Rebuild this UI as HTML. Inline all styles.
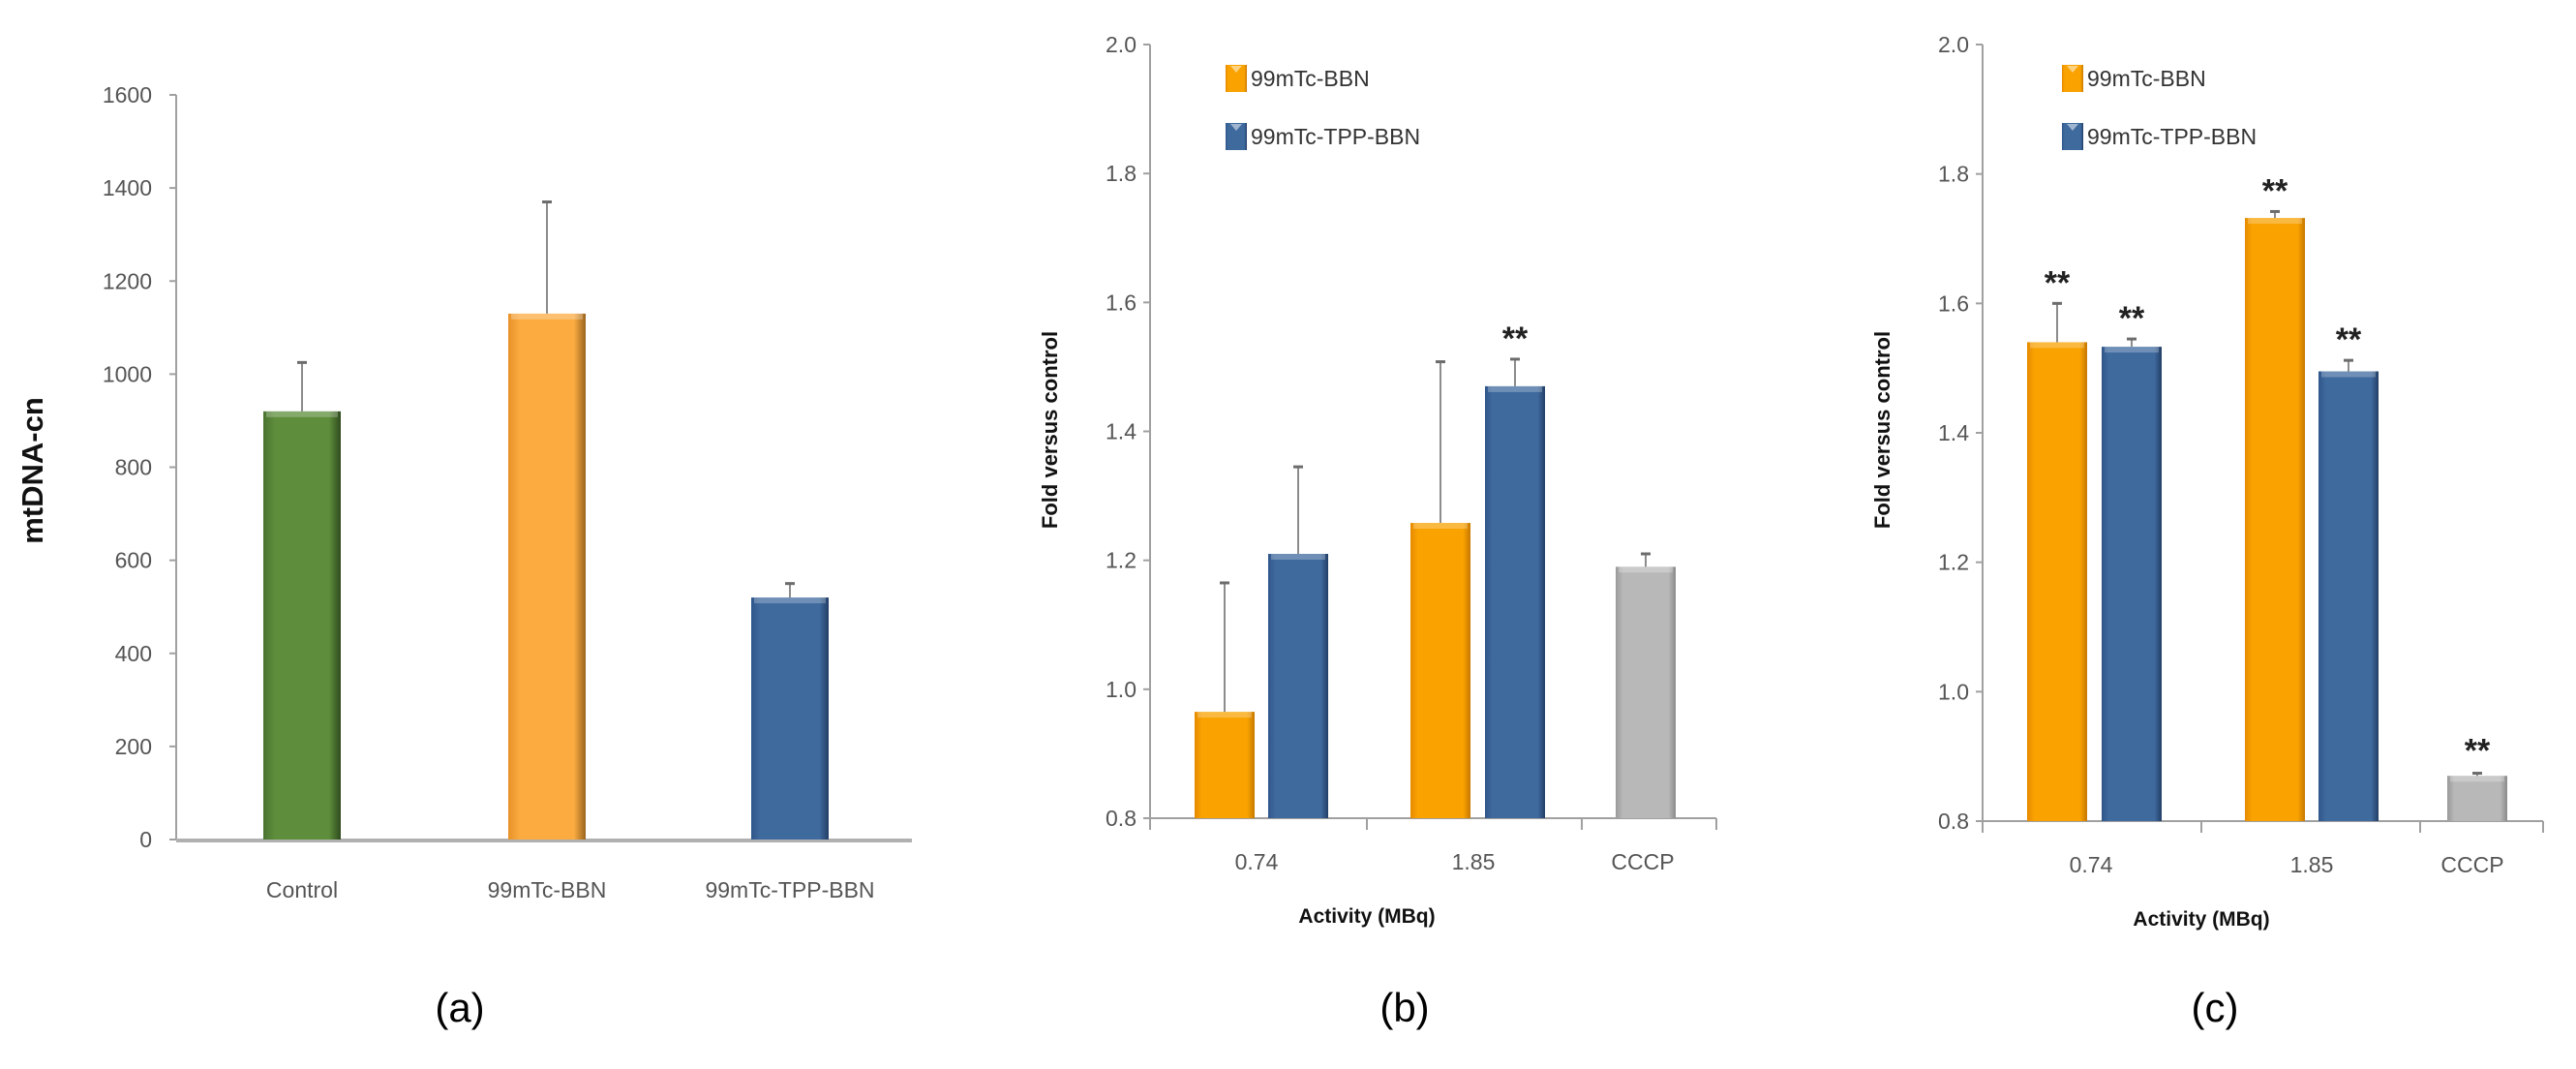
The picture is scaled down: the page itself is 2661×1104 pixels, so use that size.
<!DOCTYPE html>
<html><head><meta charset="utf-8">
<style>
html,body{margin:0;padding:0;background:#fff;}
svg{display:block;}
text{font-family:"Liberation Sans",sans-serif;}
</style></head>
<body>
<svg id="chart" width="2661" height="1104" viewBox="0 0 2661 1104" xmlns="http://www.w3.org/2000/svg">
<defs>
<linearGradient id="gGreen" x1="0" x2="1" y1="0" y2="0"><stop offset="0" stop-color="#4a7430"/><stop offset="0.15" stop-color="#5e8d3b"/><stop offset="0.85" stop-color="#5e8d3b"/><stop offset="1" stop-color="#2f4a1e"/></linearGradient>
<linearGradient id="gOrangeA" x1="0" x2="1" y1="0" y2="0"><stop offset="0" stop-color="#e8922a"/><stop offset="0.15" stop-color="#fbab40"/><stop offset="0.85" stop-color="#fbab40"/><stop offset="1" stop-color="#9a6420"/></linearGradient>
<linearGradient id="gOrange" x1="0" x2="1" y1="0" y2="0"><stop offset="0" stop-color="#e68a00"/><stop offset="0.12" stop-color="#f9a200"/><stop offset="0.88" stop-color="#f9a200"/><stop offset="1" stop-color="#c67800"/></linearGradient>
<linearGradient id="gBlue" x1="0" x2="1" y1="0" y2="0"><stop offset="0" stop-color="#30568a"/><stop offset="0.12" stop-color="#3f6a9e"/><stop offset="0.88" stop-color="#3f6a9e"/><stop offset="1" stop-color="#223e66"/></linearGradient>
<linearGradient id="gGrey" x1="0" x2="1" y1="0" y2="0"><stop offset="0" stop-color="#9a9a9a"/><stop offset="0.12" stop-color="#b8b8b8"/><stop offset="0.88" stop-color="#b8b8b8"/><stop offset="1" stop-color="#8a8a8a"/></linearGradient>
</defs>
</svg>
<script>
// ---- Panel (a) data ----
const aCategories = ["Control", "99mTc-BBN", "99mTc-TPP-BBN"];
const aValues = [920, 1130, 520];
const aErrors = [105, 240, 30];
const aTicks = [0, 200, 400, 600, 800, 1000, 1200, 1400, 1600];
// ---- Panel (b) data ----
const bCategories = ["0.74", "1.85", "CCCP"];
const bBBN = [0.965, 1.258];
const bBBNErr = [0.20, 0.25];
const bTPP = [1.21, 1.47];
const bTPPErr = [0.135, 0.042];
const bCCCP = [1.19];
const bCCCPErr = [0.02];
const bStarsTPP = [false, true];
const bStarsBBN = [false, false];
const bStarsCCCP = [false];
// ---- Panel (c) data ----
const cCategories = ["0.74", "1.85", "CCCP"];
const cBBN = [1.54, 1.732];
const cBBNErr = [0.06, 0.01];
const cTPP = [1.533, 1.495];
const cTPPErr = [0.012, 0.017];
const cCCCP = [0.87];
const cCCCPErr = [0.004];
const cStarsBBN = [true, true];
const cStarsTPP = [true, true];
const cStarsCCCP = [true];
const foldTicks = [0.8, 1.0, 1.2, 1.4, 1.6, 1.8, 2.0];
const legendLabels = ["99mTc-BBN", "99mTc-TPP-BBN"];

const svg = document.getElementById('chart');
const NS = 'http://www.w3.org/2000/svg';
function mk(tag, attrs, parent){
  const e = document.createElementNS(NS, tag);
  for (const k in attrs) e.setAttribute(k, attrs[k]);
  (parent||svg).appendChild(e);
  return e;
}
function scaleY(min,max,y0,y1){ return v => y0 + (v-min)/(max-min)*(y1-y0); }

function bar(g, x, w, yv, ybase, fill, name){
  const r = mk('rect',{x:x,y:yv,width:w,height:ybase-yv,fill:fill},g);
  
  
  const cap = mk('rect',{x:x+3,y:yv,width:w-6,height:6,fill:'#ffffff','fill-opacity':0.25},g);
  
  
}
function errBar(g, cx, yTop, yVal, name){
  const l = mk('line',{x1:cx,x2:cx,y1:yTop,y2:yVal,stroke:'#8c8c8c','stroke-width':2},g);
  
  
  const c = mk('line',{x1:cx-5,x2:cx+5,y1:yTop,y2:yTop,stroke:'#6c6c6c','stroke-width':3},g);
  
  
}
function stars(g, cx, y, name){
  const t = mk('text',{x:cx,y:y,'text-anchor':'middle','font-size':34,'font-weight':'bold',fill:'#222'},g);
  t.textContent = '**';
  
  
}

// ===== Panel (a) =====
(function(){
  const g = mk('g',{});
  
  
  const ax = 182, y = scaleY(0,1600,867,98);
  const al = mk('line',{x1:ax,x2:ax,y1:y(1600),y2:y(0),stroke:'#a0a0a0','stroke-width':2},g);
   
  aTicks.forEach(t=>{
    const tk = mk('line',{x1:ax-7,x2:ax,y1:y(t),y2:y(t),stroke:'#a0a0a0','stroke-width':2},g);
     
    const tl = mk('text',{x:157,y:y(t)+8,'text-anchor':'end','font-size':23,fill:'#555'},g);
    tl.textContent = t;
     
  });
  const xl = mk('line',{x1:ax,x2:942,y1:y(0)+1,y2:y(0)+1,stroke:'#b0b0b0','stroke-width':4},g);
   
  const yt = mk('text',{x:0,y:0,'text-anchor':'middle','font-size':31,'font-weight':'bold',fill:'#111',transform:'translate(44,486) rotate(-90)'},g);
  yt.textContent = 'mtDNA-cn';
   
  const centers = [312, 565, 816], bw = 80;
  const fills = ['url(#gGreen)','url(#gOrangeA)','url(#gBlue)'];
  aCategories.forEach((c,i)=>{
    bar(g, centers[i]-bw/2, bw, y(aValues[i]), y(0), fills[i], 'bar-a-'+i);
    errBar(g, centers[i], y(aValues[i]+aErrors[i]), y(aValues[i]), 'error-bar-a-'+i);
    const t = mk('text',{x:centers[i],y:927,'text-anchor':'middle','font-size':23,fill:'#555'},g);
    t.textContent = c;
     
  });
  const pl = mk('text',{x:475,y:1055,'text-anchor':'middle','font-size':42,fill:'#000','font-family':'Liberation Serif, serif'},g);
  pl.textContent = '(a)';
   
})();

// ===== Fold panels (b), (c) =====
function foldPanel(p){
  const g = mk('g',{});
  
  
  const ax = p.ax, y = scaleY(0.8,2.0,p.base,46);
  const al = mk('line',{x1:ax,x2:ax,y1:y(2.0),y2:y(0.8),stroke:'#a0a0a0','stroke-width':2},g);
   
  foldTicks.forEach(t=>{
    const tk = mk('line',{x1:ax-7,x2:ax,y1:y(t),y2:y(t),stroke:'#a0a0a0','stroke-width':2},g);
     
    const tl = mk('text',{x:ax-14,y:y(t)+8,'text-anchor':'end','font-size':23,fill:'#555'},g);
    tl.textContent = t.toFixed(1);
     
  });
  const xl = mk('line',{x1:ax,x2:p.xend,y1:y(0.8),y2:y(0.8),stroke:'#a0a0a0','stroke-width':2},g);
   
  [ax].concat(p.dividers).concat([p.xend]).forEach(dx=>{
    const d = mk('line',{x1:dx,x2:dx,y1:y(0.8),y2:y(0.8)+12,stroke:'#a0a0a0','stroke-width':2},g);
     
  });
  const yt = mk('text',{x:0,y:0,'text-anchor':'middle','font-size':22,'font-weight':'bold',fill:'#111',transform:'translate('+p.ytx+',444) rotate(-90)'},g);
  yt.textContent = 'Fold versus control';
   
  const bw = 62;
  p.bbn.forEach((v,i)=>{
    const cx = p.bbnX[i];
    bar(g, cx-bw/2, bw, y(v), y(0.8), 'url(#gOrange)', 'bar-'+p.id+'-bbn-'+i);
    errBar(g, cx, y(v+p.bbnErr[i]), y(v), 'error-bar-'+p.id+'-bbn-'+i);
    if (p.starsBBN[i]) stars(g, cx, y(v+p.bbnErr[i])-10, 'significance-'+p.id+'-bbn-'+i);
  });
  p.tpp.forEach((v,i)=>{
    const cx = p.tppX[i];
    bar(g, cx-bw/2, bw, y(v), y(0.8), 'url(#gBlue)', 'bar-'+p.id+'-tpp-'+i);
    errBar(g, cx, y(v+p.tppErr[i]), y(v), 'error-bar-'+p.id+'-tpp-'+i);
    if (p.starsTPP[i]) stars(g, cx, y(v+p.tppErr[i])-10, 'significance-'+p.id+'-tpp-'+i);
  });
  p.cccp.forEach((v,i)=>{
    const cx = p.cccpX;
    bar(g, cx-bw/2, bw, y(v), y(0.8), 'url(#gGrey)', 'bar-'+p.id+'-cccp');
    errBar(g, cx, y(v+p.cccpErr[i]), y(v), 'error-bar-'+p.id+'-cccp');
    if (p.starsCCCP[i]) stars(g, cx, y(v+p.cccpErr[i])-12, 'significance-'+p.id+'-cccp');
  });
  p.cats.forEach((c,i)=>{
    const t = mk('text',{x:p.catX[i],y:y(0.8)+53,'text-anchor':'middle','font-size':23,fill:'#555'},g);
    t.textContent = c;
     
  });
  const xt = mk('text',{x:p.dividers[0],y:y(0.8)+108,'text-anchor':'middle','font-size':21,'font-weight':'bold',fill:'#111'},g);
  xt.textContent = 'Activity (MBq)';
   
  const lfills = ['url(#gOrange)','url(#gBlue)'];
  legendLabels.forEach((l,i)=>{
    const ly = p.legY[i];
    const sw = mk('rect',{x:p.legX,y:ly-14,width:22,height:28,fill:lfills[i]},g);
     
    const tri = mk('path',{d:'M'+(p.legX+5)+' '+(ly-13)+' L'+(p.legX+17)+' '+(ly-13)+' L'+(p.legX+11)+' '+(ly-6)+' Z',fill:'#fff','fill-opacity':0.5},g);
     
    const t = mk('text',{x:p.legX+26,y:ly+8,'font-size':23,fill:'#333'},g);
    t.textContent = l;
     
  });
  const pl = mk('text',{x:p.plx,y:1055,'text-anchor':'middle','font-size':42,fill:'#000','font-family':'Liberation Serif, serif'},g);
  pl.textContent = '('+p.id+')';
   
}

foldPanel({id:'b', ax:1188, base:845, xend:1773, dividers:[1412,1634], ytx:1092,
  bbn:bBBN, bbnErr:bBBNErr, bbnX:[1265,1488], tpp:bTPP, tppErr:bTPPErr, tppX:[1341,1565],
  cccp:bCCCP, cccpErr:bCCCPErr, cccpX:1700, starsBBN:bStarsBBN, starsTPP:bStarsTPP, starsCCCP:bStarsCCCP,
  cats:bCategories, catX:[1298,1522,1697], legX:1266, legY:[81,141], plx:1451});
foldPanel({id:'c', ax:2048, base:848, xend:2627, dividers:[2274,2500], ytx:1952,
  bbn:cBBN, bbnErr:cBBNErr, bbnX:[2125,2350], tpp:cTPP, tppErr:cTPPErr, tppX:[2202,2426],
  cccp:cCCCP, cccpErr:cCCCPErr, cccpX:2559, starsBBN:cStarsBBN, starsTPP:cStarsTPP, starsCCCP:cStarsCCCP,
  cats:cCategories, catX:[2160,2388,2554], legX:2130, legY:[81,141], plx:2288});
</script>
</body></html>
